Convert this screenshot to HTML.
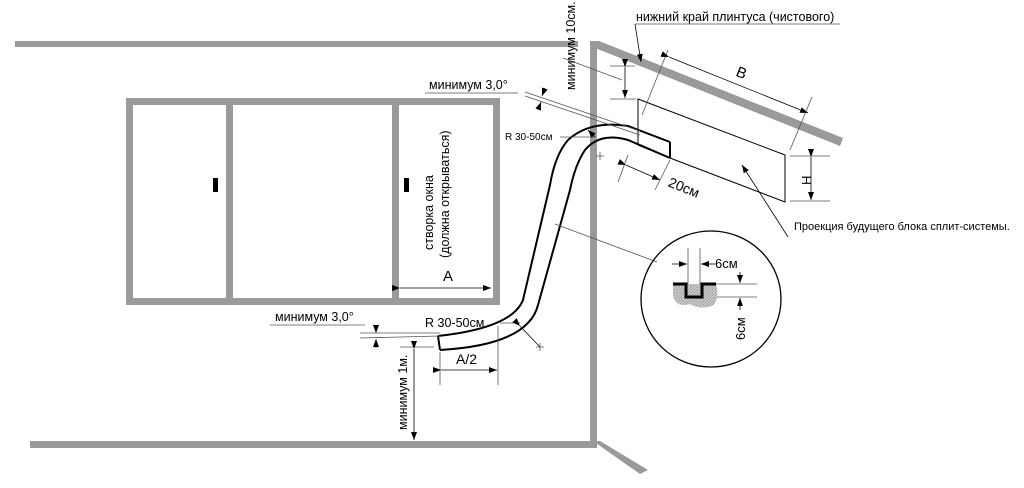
<!DOCTYPE html>
<html><head><meta charset="utf-8"><style>
html,body{margin:0;padding:0;background:#fff;width:1024px;height:488px;overflow:hidden}
svg{display:block;font-family:"Liberation Sans",sans-serif}
</style></head><body>
<svg width="1024" height="488" viewBox="0 0 1024 488" xmlns="http://www.w3.org/2000/svg">
<defs>
<marker id="a" markerWidth="8" markerHeight="6" refX="8" refY="3" orient="auto" markerUnits="userSpaceOnUse"><path d="M0,0 L8,3 L0,6z" fill="#000"/></marker>
<pattern id="h" width="3" height="3" patternUnits="userSpaceOnUse"><rect width="3" height="3" fill="#ccc"/><path d="M0,3 L3,0" stroke="#888" stroke-width="0.6"/></pattern>
</defs>
<g fill="#9a9a9a">
<rect x="15" y="41" width="563" height="6"/>
<rect x="590" y="41" width="7" height="407"/>
<polygon points="590,41 599,41 843,138 840,146 595,48"/>
<rect x="30" y="441" width="567" height="7"/>
<polygon points="593,441 600,441 648,470 640,474"/>
<path d="M126,98 H500 V305 H126Z M133,105 V298 H226 V105Z M233,105 V298 H392 V105Z M399,105 V298 H493 V105Z" fill-rule="evenodd"/>
</g>
<rect x="213" y="178" width="5" height="14" fill="#000"/>
<rect x="404" y="178" width="5" height="14" fill="#000"/>
<g stroke="#000" stroke-width="1" fill="none">
<polygon points="638,99 785,155 785,202 670,158 638,145" fill="#fff"/>
<path d="M670,142 L628,126 Q590,120 568,140 Q555,155 550,185 L523,300 Q512,328 438,336" stroke-width="2"/>
<path d="M670,158 L628,140 Q600,132 585,150 Q575,165 570,190 L538,305 Q528,345 440,350" stroke-width="2" fill="none"/>
<line x1="670" y1="142" x2="670" y2="158" stroke-width="2"/>
<line x1="438" y1="336" x2="440" y2="350" stroke-width="2"/>
</g>
<g stroke="#555" stroke-width="0.8" fill="none">
<line x1="400" y1="288" x2="491" y2="288" marker-start="url(#a)" marker-end="url(#a)" stroke="#000"/>
<line x1="440" y1="352" x2="440" y2="385"/><line x1="498" y1="326" x2="498" y2="385"/>
<line x1="441" y1="370" x2="497" y2="370" stroke="#000" marker-start="url(#a)" marker-end="url(#a)"/>
<line x1="400" y1="347" x2="434" y2="347"/>
<line x1="414" y1="349" x2="414" y2="440" stroke="#000" marker-start="url(#a)" marker-end="url(#a)"/>
<line x1="270" y1="325" x2="365" y2="325"/>
<line x1="360" y1="333" x2="440" y2="333"/><line x1="360" y1="338" x2="440" y2="336"/>
<line x1="376" y1="325" x2="376" y2="333" stroke="#000" marker-end="url(#a)"/>
<line x1="376" y1="348" x2="376" y2="339" stroke="#000" marker-end="url(#a)"/>
<line x1="500" y1="323" x2="520" y2="323"/>
<line x1="520" y1="326" x2="540" y2="347" stroke="#000" marker-start="url(#a)"/>
<path d="M536,347 h8 M540,343 v8"/>
<line x1="425" y1="93" x2="518" y2="93"/>
<line x1="525" y1="92" x2="640" y2="131"/><line x1="525" y1="96" x2="640" y2="135"/>
<line x1="545" y1="88" x2="542" y2="96" stroke="#000" marker-end="url(#a)"/>
<line x1="538" y1="110" x2="541" y2="102" stroke="#000" marker-end="url(#a)"/>
<line x1="560" y1="137" x2="595" y2="137"/>
<line x1="595" y1="137" x2="588" y2="130" stroke="#000" marker-end="url(#a)"/>
<path d="M596,156 h8 M600,152 v8"/>
<line x1="563" y1="58" x2="622" y2="80"/>
<line x1="610" y1="66" x2="635" y2="66"/><line x1="610" y1="99" x2="636" y2="99"/>
<line x1="625" y1="67" x2="625" y2="98" stroke="#000" marker-start="url(#a)" marker-end="url(#a)"/>
<line x1="635" y1="24" x2="641" y2="62" stroke="#000" marker-end="url(#a)"/>
<line x1="635" y1="24" x2="840" y2="24"/>
<line x1="668" y1="50" x2="642" y2="115"/><line x1="812" y1="97" x2="790" y2="150"/>
<line x1="669" y1="57" x2="808" y2="113" stroke="#000" marker-start="url(#a)" marker-end="url(#a)"/>
<line x1="628" y1="155" x2="618" y2="182"/><line x1="670" y1="160" x2="655" y2="190"/>
<line x1="626" y1="165" x2="660" y2="180" stroke="#000" marker-start="url(#a)" marker-end="url(#a)"/>
<line x1="790" y1="156" x2="830" y2="156"/><line x1="790" y1="201" x2="830" y2="201"/>
<line x1="811" y1="157" x2="811" y2="200" stroke="#000" marker-start="url(#a)" marker-end="url(#a)"/>
<line x1="788" y1="237" x2="742" y2="165" stroke="#000" marker-end="url(#a)"/>
<line x1="555" y1="224" x2="657" y2="262"/>
<ellipse cx="711" cy="299" rx="70" ry="68" stroke="#000" stroke-width="1.3"/>
<line x1="688" y1="248" x2="688" y2="285"/><line x1="700" y1="248" x2="700" y2="285"/>
<line x1="672" y1="264" x2="687" y2="264" stroke="#000" marker-end="url(#a)"/>
<line x1="715" y1="264" x2="701" y2="264" stroke="#000" marker-end="url(#a)"/>
<line x1="715" y1="284" x2="757" y2="284"/><line x1="700" y1="297" x2="757" y2="297"/>
<line x1="740" y1="272" x2="740" y2="283" stroke="#000" marker-end="url(#a)"/>
<line x1="740" y1="310" x2="740" y2="298" stroke="#000" marker-end="url(#a)"/>
</g>
<path d="M673,284 L716,284 Q720,300 712,306 Q700,310 690,304 Q676,308 673,296Z" fill="url(#h)"/>
<path d="M673,284 H686 V297 H702 V284 H716" stroke="#000" stroke-width="3" fill="none"/>
<g font-size="12.5" fill="#000">
<text x="636" y="21">нижний край плинтуса (чистового)</text>
<text x="429" y="89">минимум 3,0°</text>
<text x="505" y="140" font-size="10">R 30-50см</text>
<text x="275" y="321">минимум 3,0°</text>
<text x="425" y="327">R 30-50см</text>
<text x="794" y="230" font-size="11">Проекция будущего блока сплит-системы.</text>
<text x="715" y="268" font-size="13">6см</text>
<text x="443" y="281" font-size="15">A</text>
<text x="456" y="364" font-size="14">A/2</text>
<text x="736" y="78" font-size="15" transform="rotate(22 742 74)">B</text>
<text x="668" y="190" font-size="14" transform="rotate(22 678 186)">20см</text>
<text x="801" y="185" font-size="13" transform="rotate(-90 806 180)">H</text>
<text x="575" y="90" transform="rotate(-90 575 90)">минимум 10см.</text>
<text x="433" y="250" transform="rotate(-90 433 250)">створка окна</text>
<text x="449" y="258" transform="rotate(-90 449 258)">(должна открываться)</text>
<text x="407" y="430" transform="rotate(-90 407 430)">минимум 1м.</text>
<text x="745" y="340" font-size="13" transform="rotate(-90 745 340)">6см</text>
</g>
</svg>
</body></html>
